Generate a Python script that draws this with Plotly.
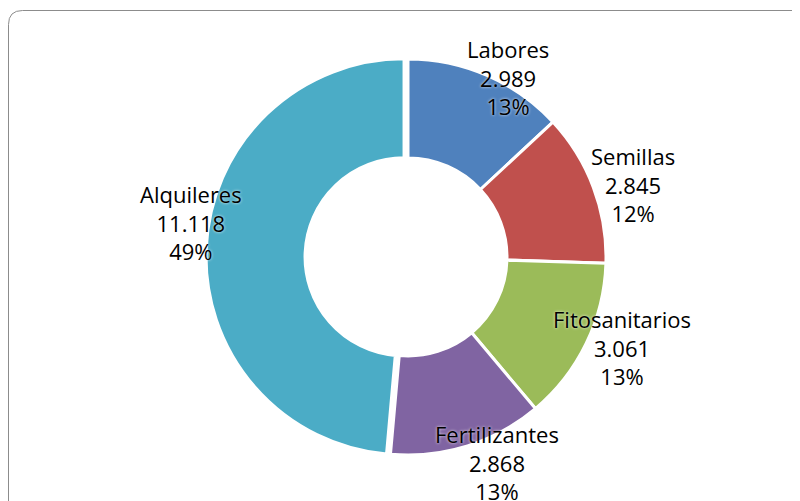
import math

import plotly.graph_objects as go

# Cost breakdown (values in thousands, Spanish thousands separator)
categories = ["Labores", "Semillas", "Fitosanitarios", "Fertilizantes", "Alquileres"]
values = [2989, 2845, 3061, 2868, 11118]
colors = ["#4F81BD", "#C0504D", "#9BBB59", "#8064A2", "#4BACC6"]
pulls = [0, 0, 0, 0, 0.02]

W, H = 800, 501
PAGE_OFF = 8  # browser body margin shifts the whole figure
CX, CY = 408 - PAGE_OFF, 257 - PAGE_OFF  # donut centre in figure px
R_OUT = 198
LABEL_R = 1.14  # label distance, fraction of outer radius
# small per-label nudges (px) to place labels the way the original does
NUDGE = [(10, 27), (14, 7), (11, -8), (21, -10), (8, -25)]


def fmt_num(v):
    return f"{v:,}".replace(",", ".")


def main():
    total = sum(values)
    half = R_OUT * (1 + max(pulls))

    fig = go.Figure()
    fig.add_trace(
        go.Pie(
            labels=categories,
            values=values,
            hole=0.5,
            sort=False,
            direction="clockwise",
            rotation=0,
            pull=pulls,
            marker=dict(colors=colors, line=dict(color="white", width=3)),
            textinfo="none",
            hoverinfo="label+value+percent",
            showlegend=False,
            domain=dict(
                x=[(CX - half) / W, (CX + half) / W],
                y=[1 - (CY + half) / H, 1 - (CY - half) / H],
            ),
        )
    )

    # data labels placed around the ring from the slice mid-angles
    cum = 0
    for cat, val, (dx, dy) in zip(categories, values, NUDGE):
        mid = (cum + val / 2) / total * 2 * math.pi
        cum += val
        px = CX + LABEL_R * R_OUT * math.sin(mid) + dx
        py = CY - LABEL_R * R_OUT * math.cos(mid) + dy
        pct = round(val / total * 100)
        fig.add_annotation(
            x=px / W,
            y=1 - py / H,
            xref="paper",
            yref="paper",
            xanchor="center",
            yanchor="middle",
            text=f"{cat}<br>{fmt_num(val)}<br>{pct}%",
            showarrow=False,
            align="center",
            font=dict(
                family="Open Sans",
                size=22,
                color="black",
                shadow="0px 0px 3px rgba(255,255,255,0.9)",
            ),
        )

    # rounded chart-area frame (runs off the right and bottom edges)
    x0, y0, r = 8.5 - PAGE_OFF, 10.5 - PAGE_OFF, 14
    path = (
        f"M {x0 / W},{-0.1} L {x0 / W},{1 - (y0 + r) / H} "
        f"Q {x0 / W},{1 - y0 / H} {(x0 + r) / W},{1 - y0 / H} "
        f"L {1.1},{1 - y0 / H}"
    )
    fig.add_shape(
        type="path",
        path=path,
        xref="paper",
        yref="paper",
        line=dict(color="#8C8C8C", width=1),
    )

    fig.update_layout(
        width=W,
        height=H,
        margin=dict(l=0, r=0, t=0, b=0),
        paper_bgcolor="white",
        plot_bgcolor="white",
    )
    fig.write_html("out.html")


if __name__ == "__main__":
    main()
